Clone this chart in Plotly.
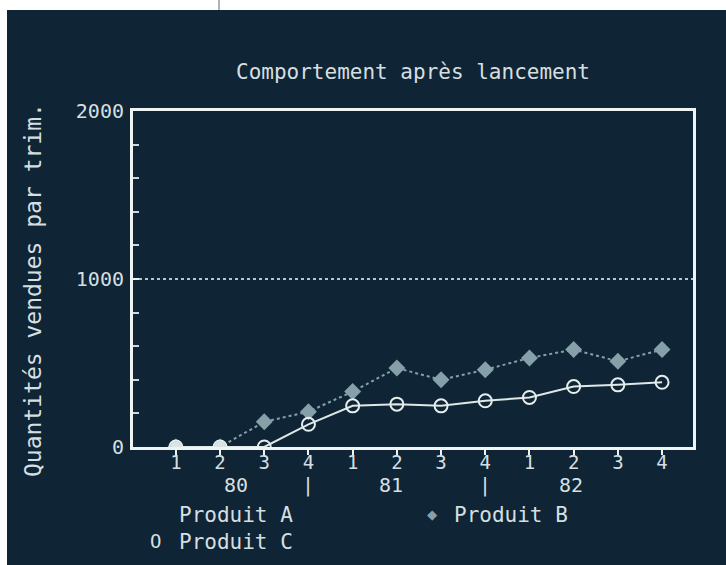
import plotly.graph_objects as go

# Quarterly sales after launch (quarters 1-4 of 1980, 1981, 1982)
quarters = list(range(12))
quarter_labels = ["1", "2", "3", "4", "1", "2", "3", "4", "1", "2", "3", "4"]
produit_a = [0, 0]
produit_b = [0, 0, 150, 210, 330, 470, 400, 460, 530, 580, 510, 580]
produit_c = [0, 0, 0, 135, 245, 255, 245, 275, 295, 360, 370, 385]
year_labels = ["80", "|", "81", "|", "82"]
year_positions = [1.36, 3.0, 4.86, 7.0, 8.94]
y_labels = ["0", "1000", "2000"]
y_label_values = [0, 1000, 2000]

W, H = 726, 565
BG = "#0f2535"
FG = "#d6dfe0"
AXIS = "#eef3f3"
B_COLOR = "#86a0aa"
FONT = "DejaVu Sans Mono"


def px(x):
    return x / W


def py(y):
    return 1 - y / H


fig = go.Figure()

fig.add_trace(go.Scatter(
    x=quarters, y=produit_b, mode="lines+markers", name="Produit B",
    line=dict(color=B_COLOR, width=2, dash="dot"),
    marker=dict(symbol="diamond", size=13, color=B_COLOR),
))
fig.add_trace(go.Scatter(
    x=quarters, y=produit_c, mode="lines+markers", name="Produit C",
    line=dict(color="#dfe7e7", width=2),
    marker=dict(symbol="circle-open", size=13, color="#e6eded", line=dict(width=2)),
))
fig.add_trace(go.Scatter(
    x=quarters[:len(produit_a)], y=produit_a, mode="markers", name="Produit A",
    marker=dict(symbol="circle", size=11, color="#dbe4e4"),
))

annotations = [
    dict(text="Comportement après lancement", x=px(413), y=py(72),
         font=dict(size=21, color=FG, family=FONT)),
    dict(text="Quantités vendues par trim.", x=px(33), y=py(290), textangle=-90,
         font=dict(size=23, color=FG, family=FONT)),
    dict(text="Produit A", x=px(177), y=py(515), xanchor="left",
         font=dict(size=21, color=FG, family=FONT)),
    dict(text="◆", x=px(432), y=py(514),
         font=dict(size=17, color=B_COLOR, family=FONT)),
    dict(text="Produit B", x=px(452), y=py(515), xanchor="left",
         font=dict(size=21, color=FG, family=FONT)),
    dict(text="O", x=px(155), y=py(541),
         font=dict(size=19, color=FG, family=FONT)),
    dict(text="Produit C", x=px(177), y=py(542), xanchor="left",
         font=dict(size=21, color=FG, family=FONT)),
]
for pos, lab in zip(year_positions, year_labels):
    annotations.append(dict(text=lab, x=pos, xref="x", y=py(485), yref="paper",
                            font=dict(size=20, color=FG, family=FONT)))
for a in annotations:
    a.setdefault("xref", "paper")
    a.setdefault("yref", "paper")
    a.setdefault("showarrow", False)
    a.setdefault("xanchor", "center")
    a.setdefault("yanchor", "middle")

shapes = [
    # dark screen panel on a white mount
    dict(type="rect", xref="paper", yref="paper", x0=px(7), x1=1.0, y0=0.0, y1=py(10),
         fillcolor=BG, line=dict(width=0), layer="below"),
    dict(type="line", xref="paper", yref="paper", x0=px(219), x1=px(219),
         y0=py(10), y1=1, line=dict(color="#666", width=1), layer="above"),
]

fig.update_layout(
    width=W, height=H,
    margin=dict(l=0, r=0, t=0, b=0, pad=0, autoexpand=False),
    paper_bgcolor="white", plot_bgcolor=BG,
    showlegend=False,
    annotations=annotations,
    shapes=shapes,
    xaxis=dict(
        domain=[px(133), px(693)], range=[-0.97, 11.7],
        tickvals=quarters, ticktext=quarter_labels,
        showline=True, linecolor=AXIS, linewidth=3, mirror=True,
        ticks="outside", ticklen=5, tickwidth=2, tickcolor=AXIS,
        showgrid=False, zeroline=False, automargin=False,
        tickfont=dict(size=19, color=FG, family=FONT),
        ticklabelstandoff=-9,
    ),
    yaxis=dict(
        domain=[py(447), py(111)], range=[0, 2000],
        tickvals=y_label_values, ticktext=y_labels,
        showline=True, linecolor=AXIS, linewidth=3, mirror=True,
        ticks="inside", ticklen=6, tickwidth=2, tickcolor=AXIS,
        showgrid=True, gridcolor="#b9c7ca", griddash="dot", gridwidth=1.5,
        zeroline=False, automargin=False,
        minor=dict(dtick=200, ticks="inside", ticklen=6, tickwidth=1.5,
                   tickcolor="#cfd9db", showgrid=False),
        tickfont=dict(size=20, color=FG, family=FONT),
        ticklabelstandoff=2,
    ),
)

fig.write_html("out.html")
